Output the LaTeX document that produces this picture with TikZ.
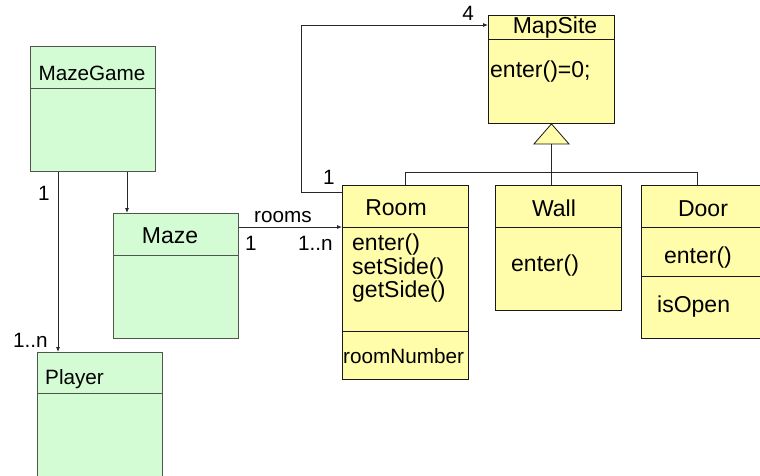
\documentclass[tikz,border=0pt]{standalone}
\usepackage{fontspec}
\setmainfont{Liberation Sans}
\usetikzlibrary{arrows.meta}
\definecolor{gfill}{RGB}{212,252,212}
\definecolor{gline}{RGB}{78,86,78}
\definecolor{yfill}{RGB}{255,252,170}
\definecolor{yline}{RGB}{25,25,25}
\definecolor{cline}{RGB}{40,40,40}
\tikzset{
  gbox/.style={draw=gline, fill=gfill, line width=0.9pt, rectangle, inner sep=0pt, anchor=north west},
  ybox/.style={draw=yline, fill=yfill, line width=0.9pt, rectangle, inner sep=0pt, anchor=north west},
  gdiv/.style={draw=gline, line width=0.9pt},
  ydiv/.style={draw=yline, line width=0.9pt},
  big/.style={font=\fontsize{23}{26}\selectfont, inner sep=0pt, text=black},
  small/.style={font=\fontsize{20.7}{24}\selectfont, inner sep=0pt, text=black},
  assoc/.style={draw=cline, line width=0.8pt, -{Latex[length=5pt,width=4pt]}},
  plain/.style={draw=cline, line width=0.8pt}
}
\begin{document}
\begin{tikzpicture}[x=1pt,y=-1pt]
\useasboundingbox (0,0) rectangle (760,475);
\clip (0,0) rectangle (760,475);

% class boxes
\node[gbox, minimum width=125pt, minimum height=125pt] (mazegame) at (30,46) {};
\node[gbox, minimum width=125pt, minimum height=125pt] (maze) at (113,213) {};
\node[gbox, minimum width=125pt, minimum height=140pt] (player) at (37,352) {};
\node[ybox, minimum width=126pt, minimum height=108pt] (mapsite) at (488,15) {};
\node[ybox, minimum width=126pt, minimum height=194pt] (room) at (342,185) {};
\node[ybox, minimum width=126pt, minimum height=125pt] (wall) at (495,185) {};
\node[ybox, minimum width=124pt, minimum height=153pt] (door) at (641,185) {};

% compartment dividers
\draw[gdiv] (30,88) -- (155,88);
\draw[gdiv] (113,255) -- (238,255);
\draw[gdiv] (37,393) -- (162,393);
\draw[ydiv] (488,39) -- (614,39);
\draw[ydiv] (342,227) -- (468,227);
\draw[ydiv] (342,331) -- (468,331);
\draw[ydiv] (495,227) -- (621,227);
\draw[ydiv] (641,227) -- (765,227);
\draw[ydiv] (641,276) -- (765,276);

% class names and members
\node[small, anchor=base] (tmazegame) at (92,80) {MazeGame};
\node[big, anchor=base] (tmaze) at (170,243) {Maze};
\node[small, anchor=base west] (tplayer) at (45,384) {Player};
\node[big, anchor=base] (tmapsite) at (555,33) {MapSite};
\node[big, anchor=base west] (tmapenter) at (490,77) {enter()=0;};
\node[big, anchor=base] (troom) at (396,215) {Room};
\node[big, anchor=base west] (troomenter) at (352,250) {enter()};
\node[big, anchor=base west] (troomset) at (352,274) {setSide()};
\node[big, anchor=base west] (troomget) at (352,297) {getSide()};
\node[small, anchor=base west] (troomnum) at (343,363) {roomNumber};
\node[big, anchor=base] (twall) at (554,216) {Wall};
\node[big, anchor=base west] (twallenter) at (511,271) {enter()};
\node[big, anchor=base] (tdoor) at (703,216) {Door};
\node[big, anchor=base] (tdoorenter) at (698,263) {enter()};
\node[big, anchor=base west] (tdooropen) at (657,312) {isOpen};

% associations
\draw[assoc] ([xshift=28pt]mazegame.south west) -- ([xshift=21pt]player.north west);
\draw[assoc] ([xshift=97pt]mazegame.south west) -- ([xshift=14pt]maze.north west);
\draw[assoc] ([yshift=-14pt]maze.north east) -- ([yshift=-42pt]room.north west);
\coordinate (aggturn) at (301,25);
\draw[assoc] ([yshift=-7pt]room.north west) -| (aggturn) -- ([yshift=-10pt]mapsite.north west);

% multiplicities and role
\node[small, anchor=base] (m1) at (44,200) {1};
\node[small, anchor=base west] (m2) at (13,347) {1..n};
\node[small, anchor=base] (mrooms) at (283,222) {rooms};
\node[small, anchor=base] (m3) at (251,250) {1};
\node[small, anchor=base west] (m4) at (298,250) {1..n};
\node[small, anchor=base] (m5) at (468,20) {4};
\node[small, anchor=base] (m6) at (329,184) {1};

% generalization
\coordinate (genbase) at ([yshift=-20pt]mapsite.south);
\draw[plain] (room.north) -- ++(0,-13) -| ([xshift=-6pt]door.north);
\draw[plain] (genbase) -- (genbase |- wall.north);
\draw[draw=yline, fill=yfill, line width=0.8pt] (mapsite.south) -- ++(17.5,20) -- ++(-35,0) -- cycle;
\end{tikzpicture}
\end{document}
